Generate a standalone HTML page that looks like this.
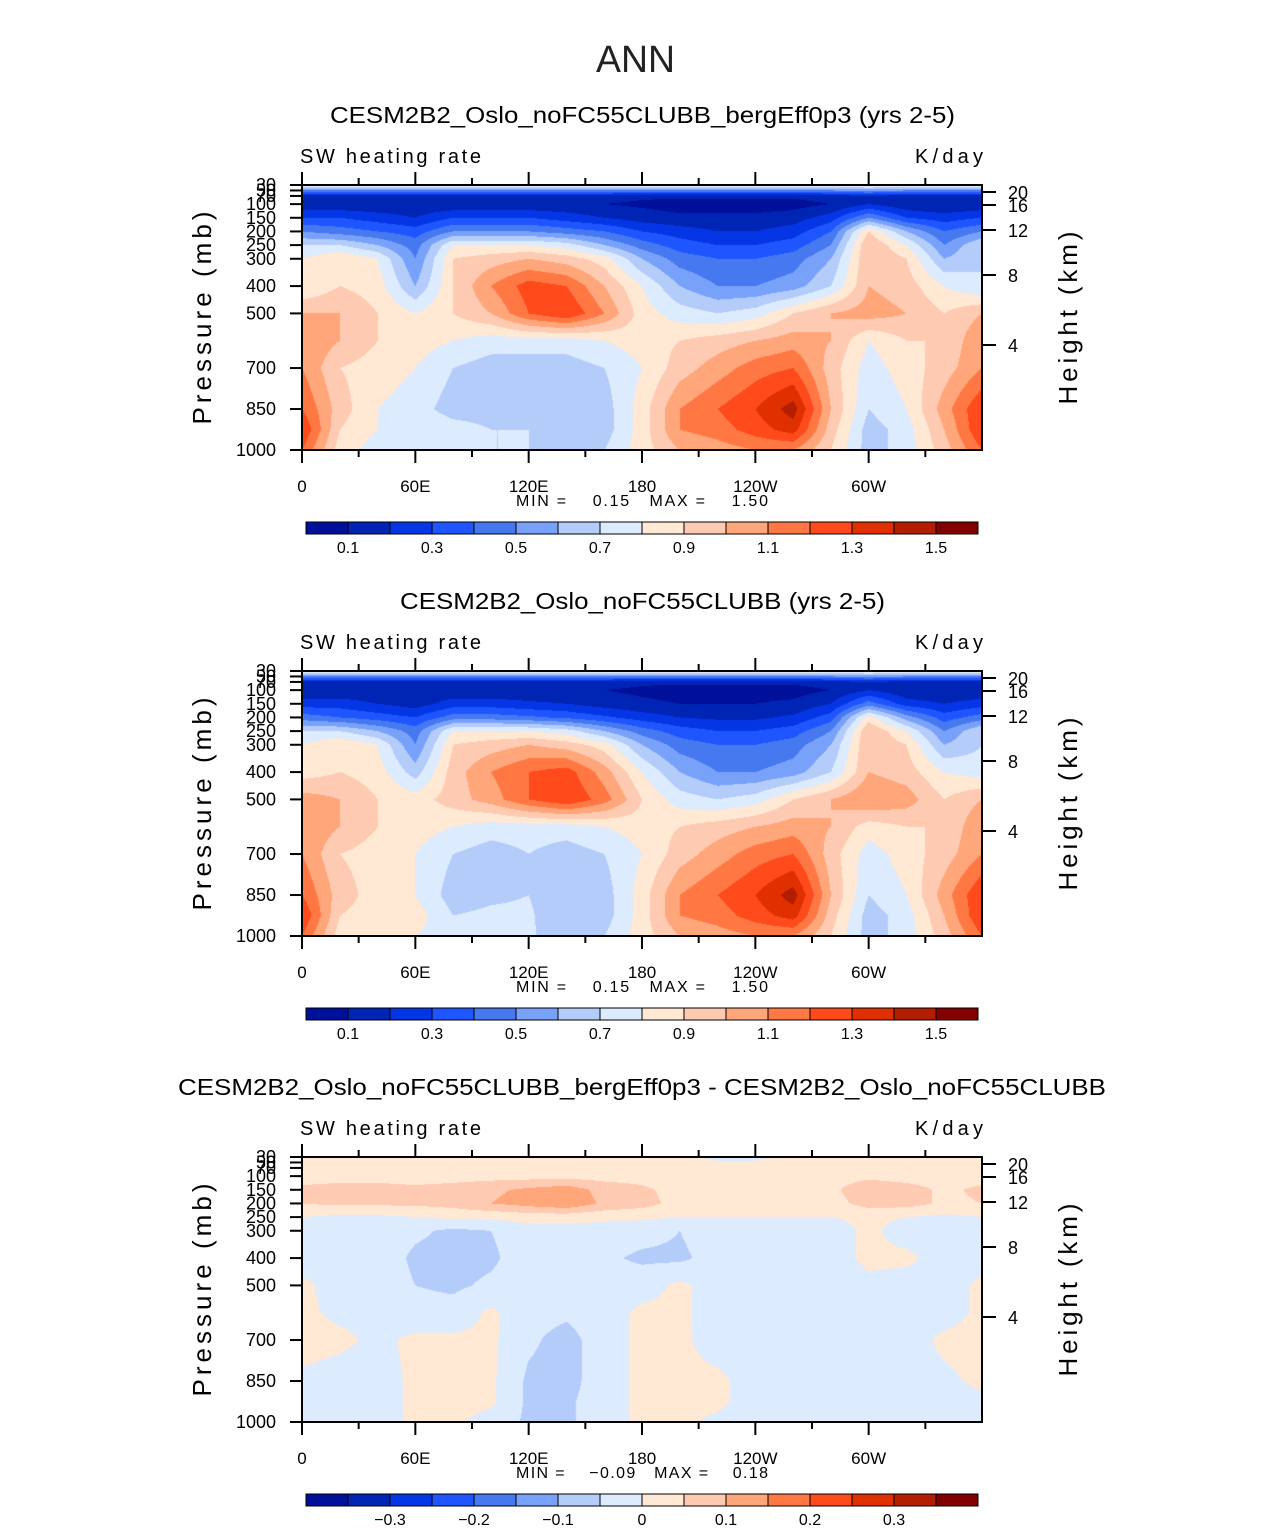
<!DOCTYPE html>
<html><head><meta charset="utf-8">
<style>
body{margin:0;background:#fff;width:1285px;height:1531px;position:relative;overflow:hidden;font-family:"Liberation Sans",sans-serif}
canvas{position:absolute}
svg{position:absolute;left:0;top:0}
</style></head>
<body>
<canvas id="c1" width="680" height="265" style="left:302px;top:185px"></canvas>
<canvas id="c2" width="680" height="265" style="left:302px;top:671px"></canvas>
<canvas id="c3" width="680" height="265" style="left:302px;top:1157px"></canvas>
<svg id="s" width="1285" height="1531"></svg>
<script>
const lons=[0,20,40,60,80,100,120,140,160,180,200,220,240,260,280,300,320,340,360];
const levels=[30,70,100,150,200,250,300,400,500,600,700,850,925,1000];
const field1=[
[0.85,0.85,0.85,0.85,0.85,0.85,0.85,0.85,0.85,0.85,0.85,0.85,0.85,0.85,0.85,0.85,0.85,0.85,0.85],
[0.15,0.15,0.15,0.15,0.15,0.15,0.15,0.15,0.15,0.12,0.12,0.12,0.12,0.12,0.15,0.2,0.15,0.15,0.15],
[0.12,0.12,0.12,0.12,0.12,0.12,0.12,0.12,0.1,0.08,0.06,0.06,0.06,0.06,0.1,0.2,0.12,0.1,0.12],
[0.3,0.3,0.25,0.2,0.3,0.3,0.3,0.25,0.2,0.15,0.12,0.12,0.12,0.15,0.25,0.5,0.3,0.25,0.3],
[0.5,0.45,0.4,0.35,0.5,0.5,0.5,0.45,0.4,0.3,0.25,0.2,0.2,0.25,0.4,0.9,0.6,0.4,0.5],
[0.7,0.7,0.6,0.45,0.8,0.8,0.8,0.75,0.6,0.45,0.35,0.3,0.3,0.35,0.5,1.0,0.8,0.5,0.7],
[0.8,0.9,0.8,0.5,0.9,0.95,1.0,0.95,0.85,0.6,0.45,0.4,0.4,0.45,0.6,1.0,0.9,0.6,0.7],
[0.8,0.9,0.85,0.6,0.9,1.1,1.25,1.2,1.0,0.8,0.6,0.5,0.5,0.55,0.7,1.0,0.95,0.8,0.7],
[1.0,1.0,0.9,0.8,0.9,1.0,1.2,1.3,1.1,0.85,0.75,0.7,0.75,0.9,1.0,1.05,1.0,0.9,1.0],
[1.1,1.0,0.9,0.85,0.8,0.75,0.75,0.75,0.8,0.85,0.9,0.95,1.0,1.05,1.0,0.8,0.9,0.9,1.1],
[1.1,0.9,0.85,0.8,0.7,0.65,0.65,0.65,0.7,0.8,0.95,1.05,1.15,1.2,0.95,0.75,0.85,0.95,1.1],
[1.2,0.95,0.8,0.75,0.65,0.65,0.6,0.6,0.65,0.85,1.1,1.2,1.3,1.45,1.0,0.7,0.8,1.05,1.3],
[1.3,0.9,0.8,0.8,0.75,0.7,0.7,0.6,0.65,0.85,1.1,1.15,1.25,1.35,0.95,0.65,0.75,1.0,1.3],
[1.2,0.85,0.75,0.8,0.75,0.7,0.7,0.65,0.7,0.85,1.0,1.05,1.1,1.1,0.9,0.65,0.75,0.95,1.2]];
const field2=[
[0.85,0.85,0.85,0.85,0.85,0.85,0.85,0.85,0.85,0.85,0.85,0.85,0.85,0.85,0.85,0.85,0.85,0.85,0.85],
[0.15,0.15,0.15,0.15,0.15,0.15,0.15,0.15,0.15,0.12,0.12,0.12,0.12,0.12,0.15,0.2,0.15,0.15,0.15],
[0.12,0.12,0.12,0.12,0.12,0.12,0.12,0.12,0.1,0.08,0.06,0.06,0.06,0.06,0.1,0.2,0.12,0.1,0.12],
[0.25,0.25,0.2,0.15,0.25,0.25,0.22,0.2,0.15,0.12,0.1,0.1,0.1,0.12,0.2,0.45,0.25,0.2,0.25],
[0.45,0.4,0.35,0.3,0.45,0.45,0.42,0.38,0.32,0.25,0.2,0.18,0.18,0.22,0.35,0.85,0.55,0.35,0.45],
[0.7,0.7,0.6,0.45,0.8,0.8,0.8,0.75,0.6,0.45,0.35,0.3,0.3,0.35,0.5,1.0,0.8,0.5,0.7],
[0.8,0.9,0.8,0.5,0.9,0.95,1.0,0.95,0.85,0.6,0.45,0.4,0.4,0.45,0.6,1.0,0.9,0.6,0.7],
[0.85,0.9,0.85,0.65,0.95,1.1,1.2,1.25,1.05,0.8,0.6,0.5,0.5,0.55,0.7,1.0,0.95,0.8,0.75],
[1.05,1.0,0.9,0.85,0.95,1.05,1.2,1.3,1.15,0.9,0.75,0.7,0.75,0.9,1.0,1.1,1.05,0.9,1.0],
[1.1,1.0,0.9,0.85,0.8,0.75,0.75,0.75,0.8,0.85,0.9,0.95,1.0,1.05,1.0,0.85,0.9,0.9,1.1],
[1.1,0.9,0.85,0.8,0.7,0.65,0.7,0.65,0.7,0.8,0.95,1.05,1.15,1.2,0.95,0.75,0.85,0.95,1.1],
[1.2,0.95,0.85,0.8,0.65,0.68,0.7,0.6,0.65,0.85,1.1,1.2,1.3,1.45,1.0,0.7,0.8,1.05,1.3],
[1.3,0.9,0.85,0.85,0.7,0.72,0.72,0.6,0.65,0.85,1.1,1.15,1.25,1.35,0.95,0.65,0.75,1.0,1.3],
[1.2,0.85,0.8,0.8,0.75,0.75,0.72,0.62,0.7,0.85,1.0,1.05,1.1,1.1,0.9,0.65,0.75,0.95,1.2]];
const field3=[
[0.01,0.01,0.01,0.01,0.01,0.01,0.01,0.01,0.01,0.01,0.01,-0.01,-0.01,0.01,0.01,0.01,0.01,0.01,0.01],
[0.02,0.02,0.02,0.02,0.02,0.02,0.02,0.02,0.02,0.02,0.02,0.02,0.02,0.02,0.02,0.02,0.02,0.02,0.02],
[0.03,0.03,0.03,0.03,0.03,0.03,0.03,0.03,0.03,0.03,0.02,0.02,0.02,0.02,0.03,0.04,0.03,0.03,0.03],
[0.06,0.07,0.07,0.06,0.07,0.09,0.11,0.13,0.08,0.06,0.03,0.02,0.02,0.02,0.04,0.08,0.07,0.04,0.06],
[0.05,0.06,0.06,0.06,0.07,0.1,0.12,0.14,0.09,0.07,0.03,0.05,0.02,0.02,0.03,0.07,0.07,0.04,0.05],
[0.0,-0.01,-0.01,0.0,0.01,0.01,0.02,0.02,0.01,0.01,0.0,0.0,0.0,0.0,0.0,0.01,0.0,-0.01,0.0],
[-0.02,-0.03,-0.02,-0.04,-0.06,-0.05,-0.02,-0.02,-0.02,-0.03,-0.05,-0.02,-0.02,-0.02,-0.02,0.01,-0.02,-0.02,-0.02],
[-0.02,-0.02,-0.02,-0.06,-0.07,-0.06,-0.02,-0.03,-0.04,-0.06,-0.06,-0.03,-0.03,-0.02,-0.02,0.01,0.01,-0.02,-0.02],
[0.01,-0.02,-0.02,-0.05,-0.06,-0.04,-0.02,-0.03,-0.02,-0.02,0.01,-0.02,-0.03,-0.02,-0.02,-0.01,-0.02,-0.02,0.01],
[0.01,-0.01,-0.01,-0.03,-0.03,0.01,-0.03,-0.04,-0.02,0.01,0.01,-0.02,-0.02,-0.02,-0.02,-0.02,-0.02,-0.02,0.01],
[0.02,0.01,-0.01,0.01,0.01,0.01,-0.04,-0.07,-0.02,0.01,0.01,-0.02,-0.02,-0.02,-0.02,-0.02,-0.02,0.01,0.02],
[-0.01,-0.02,-0.02,0.01,0.02,0.01,-0.06,-0.07,-0.02,0.01,0.01,0.01,-0.02,-0.02,-0.02,-0.02,-0.02,-0.01,0.01],
[-0.02,-0.02,-0.02,0.01,0.02,0.01,-0.06,-0.06,-0.02,0.01,0.02,0.01,-0.02,-0.02,-0.02,-0.02,-0.02,-0.02,-0.01],
[-0.02,-0.02,-0.02,0.01,0.01,-0.02,-0.06,-0.06,-0.02,0.01,0.01,-0.01,-0.02,-0.02,-0.02,-0.02,-0.02,-0.02,-0.02]];
const colors=['#00109a','#0024b4','#0436e6','#1e55ff','#4678f0','#78a2fa','#b4ccfa','#dcebfe','#ffe8d4','#ffcab2','#ffa67a','#ff7844','#ff4a1c','#e03000','#b41e00','#820000'];
const levs1=[0.1,0.2,0.3,0.4,0.5,0.6,0.7,0.8,0.9,1.0,1.1,1.2,1.3,1.4,1.5];
const levs3=[-0.35,-0.3,-0.25,-0.2,-0.15,-0.1,-0.05,0,0.05,0.1,0.15,0.2,0.25,0.3,0.35];
const W=680,H=265;
function xOf(lon){return lon*W/360;}
function yOf(p){return (p-30)/970*H;}
function rgb(h){return [parseInt(h.substr(1,2),16),parseInt(h.substr(3,2),16),parseInt(h.substr(5,2),16)];}
const cRGB=colors.map(rgb);
function draw(id,field,levs){
  const cv=document.getElementById(id),ctx=cv.getContext('2d');
  const img=ctx.createImageData(W,H);
  const ys=levels.map(yOf);
  for(let py=0;py<H;py++){
    let j=0;while(j<levels.length-2&&ys[j+1]<py+0.5)j++;
    let ty=(py+0.5-ys[j])/(ys[j+1]-ys[j]);ty=Math.max(0,Math.min(1,ty));
    for(let px=0;px<W;px++){
      const lon=(px+0.5)*360/W;
      let i=Math.min(lons.length-2,Math.floor(lon/20));
      const tx=(lon-lons[i])/20;
      const v=(1-ty)*((1-tx)*field[j][i]+tx*field[j][i+1])+ty*((1-tx)*field[j+1][i]+tx*field[j+1][i+1]);
      let k=0;while(k<levs.length&&v>=levs[k])k++;
      const c=cRGB[k],o=(py*W+px)*4;
      img.data[o]=c[0];img.data[o+1]=c[1];img.data[o+2]=c[2];img.data[o+3]=255;
    }
  }
  ctx.putImageData(img,0,0);
}
draw('c1',field1,levs1);draw('c2',field2,levs1);draw('c3',field3,levs3);

const S=document.getElementById('s'),NS='http://www.w3.org/2000/svg';
function el(t,a,txt){const e=document.createElementNS(NS,t);for(const k in a)e.setAttribute(k,a[k]);if(txt!==undefined)e.textContent=txt;S.appendChild(e);return e;}
let e=el('text',{x:596,y:72,'font-size':38,fill:'#222','font-family':'DejaVu Sans ExtraLight,Liberation Sans,sans-serif',textLength:79,lengthAdjust:'spacingAndGlyphs'},'ANN');


const titles=['CESM2B2_Oslo_noFC55CLUBB_bergEff0p3 (yrs 2-5)','CESM2B2_Oslo_noFC55CLUBB (yrs 2-5)','CESM2B2_Oslo_noFC55CLUBB_bergEff0p3 - CESM2B2_Oslo_noFC55CLUBB'];
const titleX=[330,400,178],titleW=[625,485,928];
const mins=['0.15','0.15','\u22120.09'],maxs=['1.50','1.50','0.18'];
const cbLabels=[['0.1','0.3','0.5','0.7','0.9','1.1','1.3','1.5'],['0.1','0.3','0.5','0.7','0.9','1.1','1.3','1.5'],['\u22120.3','\u22120.2','\u22120.1','0','0.1','0.2','0.3']];
const cbPos=[[1,3,5,7,9,11,13,15],[1,3,5,7,9,11,13,15],[2,4,6,8,10,12,14]];
const pLabels=[30,50,70,100,150,200,250,300,400,500,700,850,1000];
const hLabels=[20,16,12,8,4],hY=[7,20,45,90,160];
const lonTicks=[0,60,120,180,240,300],lonNames=['0','60E','120E','180','120W','60W'];
for(let n=0;n<3;n++){
  const T=185+486*n,L=302;
  e=el('text',{x:titleX[n],y:T-62,'font-size':23,fill:'#000',textLength:titleW[n],lengthAdjust:'spacingAndGlyphs'},titles[n]);
  
  
  e=el('text',{x:300,y:T-22,'font-size':20,fill:'#000',textLength:181,lengthAdjust:'spacing'},'SW heating rate');
  
  
  e=el('text',{x:915,y:T-22,'font-size':20,fill:'#000',textLength:68,lengthAdjust:'spacing'},'K/day');
  
  
  e=el('rect',{x:L,y:T,width:W,height:H,fill:'none',stroke:'#000','stroke-width':2});
  
  
  for(let lon=0;lon<360;lon+=30){
    const x=L+xOf(lon),maj=lon%60===0;
    el('line',{x1:x,x2:x,y1:T+H,y2:T+H+(maj?13:7),stroke:'#000','stroke-width':2});
    el('line',{x1:x,x2:x,y1:T,y2:T-(maj?13:7),stroke:'#000','stroke-width':2});
  }
  lonTicks.forEach((lon,i)=>{
    e=el('text',{x:L+xOf(lon),y:T+H+42,'font-size':17,'text-anchor':'middle',fill:'#000'},lonNames[i]);
    
    
  });
  pLabels.forEach(p=>{
    const y=T+yOf(p);
    el('line',{x1:L-12,x2:L,y1:y,y2:y,stroke:'#000','stroke-width':2});
    e=el('text',{x:L-26,y:y+6,'font-size':18,'text-anchor':'end',fill:'#000'},String(p));
    
    
  });
  hLabels.forEach((h,i)=>{
    const y=T+hY[i];
    el('line',{x1:L+W,x2:L+W+14,y1:y,y2:y,stroke:'#000','stroke-width':2});
    e=el('text',{x:L+W+26,y:y+7,'font-size':18,fill:'#000'},String(h));
    
    
  });
  e=el('text',{x:0,y:0,'font-size':26,'text-anchor':'middle',fill:'#000',transform:`translate(211,${T+133}) rotate(-90)`,textLength:213,lengthAdjust:'spacing'},'Pressure (mb)');
  
  
  e=el('text',{x:0,y:0,'font-size':26,'text-anchor':'middle',fill:'#000',transform:`translate(1077,${T+133}) rotate(-90)`,textLength:173,lengthAdjust:'spacing'},'Height (km)');
  
  
  e=el('text',{x:516,y:T+321,'font-size':16,fill:'#000',style:'white-space:pre',textLength:252,lengthAdjust:'spacing'},'MIN =    '+mins[n]+'   MAX =    '+maxs[n]);
  
  
  const CY=T+337;
  colors.forEach((c,k)=>{
    e=el('rect',{x:306+42*k,y:CY,width:42,height:12,fill:c,stroke:'#000','stroke-width':1});
    
    
  });
  cbLabels[n].forEach((t,i)=>{
    e=el('text',{x:306+42*cbPos[n][i],y:CY+31,'font-size':16,'text-anchor':'middle',fill:'#000'},t);
    
    
  });
}
</script>
</body></html>
